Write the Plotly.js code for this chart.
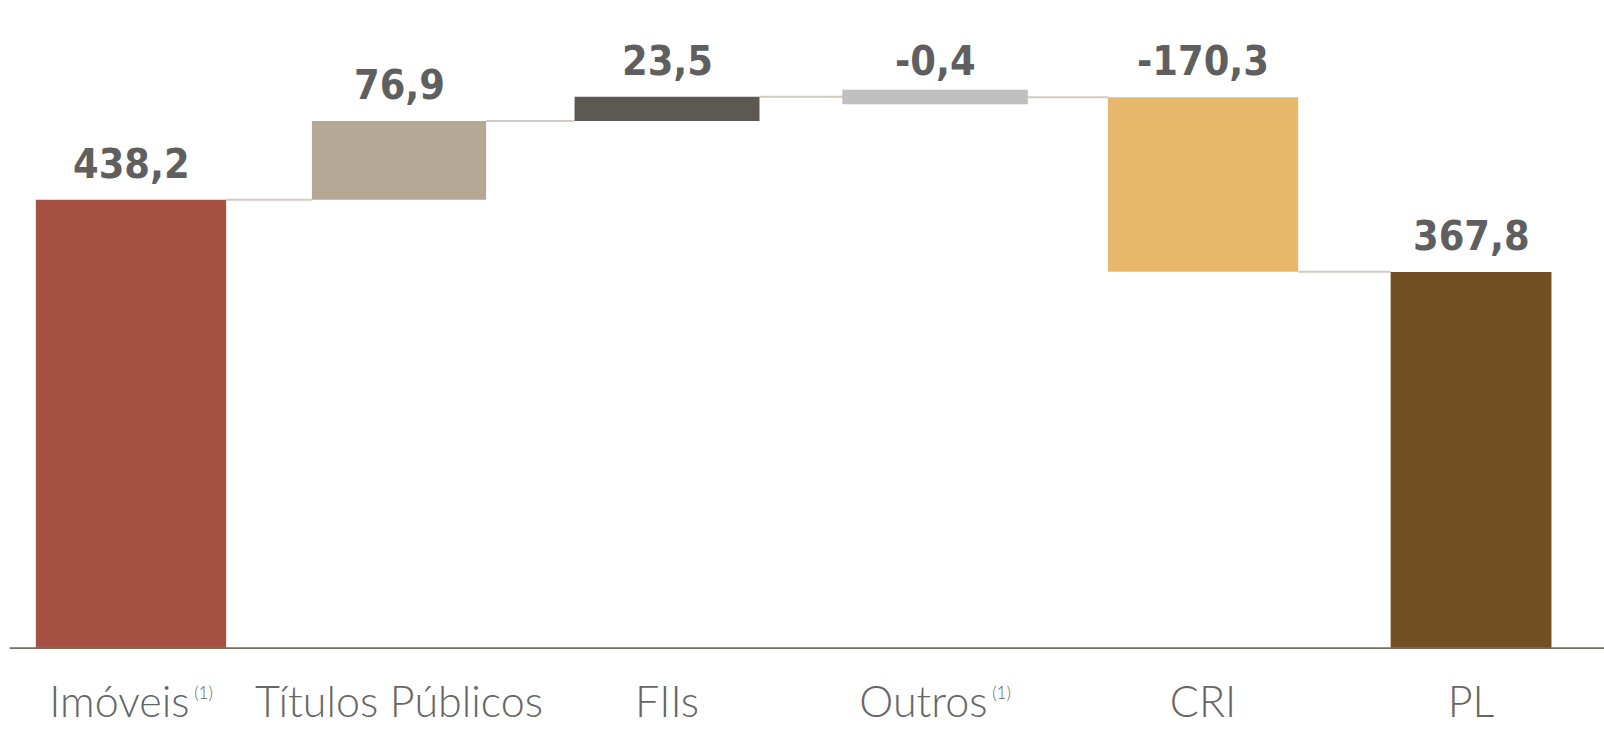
<!DOCTYPE html>
<html>
<head>
<meta charset="utf-8">
<script src="https://cdn.plot.ly/plotly-3.0.1.min.js"></script>
<style>
  html, body { margin: 0; padding: 0; background: #ffffff; }
  #chart { width: 1604px; height: 739px; }
</style>
</head>
<body>
<div id="chart"></div>
<script>
// ---- data ----
const categories = ['Imóveis', 'Títulos Públicos', 'FIIs', 'Outros', 'CRI', 'PL'];
const footnotes = ['(1)', '', '', '(1)', '', ''];
const values = [438.2, 76.9, 23.5, -0.4, -170.3, 367.8];
const measures = ['absolute', 'relative', 'relative', 'relative', 'relative', 'total'];

// ---- style ----
const barColors = ['#A65041', '#B5A894', '#5C5952', '#BFBFBF', '#E8B86D', '#725024'];
const barWidths = [0.71, 0.65, 0.69, 0.64, 0.71, 0.60];
const barLineWidths = [0, 0, 0, 14, 0, 0];
const labelColor = '#5F5F5F';

// ---- build waterfall geometry from data ----
const xs = categories.map((_, i) => i);
const bases = [], heights = [], levels = [];
let running = 0;
values.forEach((v, i) => {
  if (measures[i] === 'absolute' || measures[i] === 'total') {
    bases.push(0); heights.push(v); running = v;
  } else {
    bases.push(running); heights.push(v); running += v;
  }
  levels.push(running);
});

const tickText = categories.map((c, i) =>
  footnotes[i] ? c + "<sup><span style='font-size:17px'> " + footnotes[i] + "</span></sup>" : c);

const trace = {
  type: 'bar',
  x: xs,
  y: heights,
  base: bases,
  width: barWidths,
  marker: { color: barColors, line: { color: barColors, width: barLineWidths } },
  hoverinfo: 'skip'
};

const shapes = [];
for (let i = 0; i < xs.length - 1; i++) {
  shapes.push({
    type: 'line', xref: 'x', yref: 'y',
    x0: xs[i] + barWidths[i] / 2, x1: xs[i + 1] - barWidths[i + 1] / 2,
    y0: levels[i], y1: levels[i],
    line: { color: '#D2CBBF', width: 2 },
    layer: 'below'
  });
}
// axis baseline
shapes.push({
  type: 'line', xref: 'paper', yref: 'y',
  x0: 0.006, x1: 1, y0: 0, y1: 0,
  line: { color: '#75705E', width: 3.5 }
});

const fmt = v => v.toFixed(1).replace('.', ',');
const annotations = values.map((v, i) => ({
  x: xs[i],
  y: Math.max(bases[i], bases[i] + heights[i]),
  xref: 'x', yref: 'y',
  text: fmt(v),
  showarrow: false,
  yanchor: 'bottom',
  yshift: 10,
  font: { family: 'DejaVu Sans Condensed, DejaVu Sans', size: 41, color: labelColor, weight: 'bold' }
}));

const layout = {
  width: 1604, height: 739,
  margin: { l: 0, r: 0, t: 0, b: 90 },
  paper_bgcolor: '#ffffff', plot_bgcolor: '#ffffff',
  showlegend: false,
  bargap: 0,
  xaxis: {
    type: 'linear',
    range: [-0.4888, 5.496],
    tickmode: 'array', tickvals: xs, ticktext: tickText,
    showgrid: false, zeroline: false, showline: false,
    ticks: '', ticklabelstandoff: 24,
    tickfont: { family: 'Lato, Open Sans, sans-serif', size: 43, color: '#666666', weight: 300 },
    fixedrange: true
  },
  yaxis: {
    range: [0, 633],
    showgrid: false, zeroline: false, showline: false,
    showticklabels: false, ticks: '',
    fixedrange: true
  },
  shapes: shapes,
  annotations: annotations
};

Plotly.newPlot('chart', [trace], layout, { displayModeBar: false, staticPlot: true });
</script>
</body>
</html>
